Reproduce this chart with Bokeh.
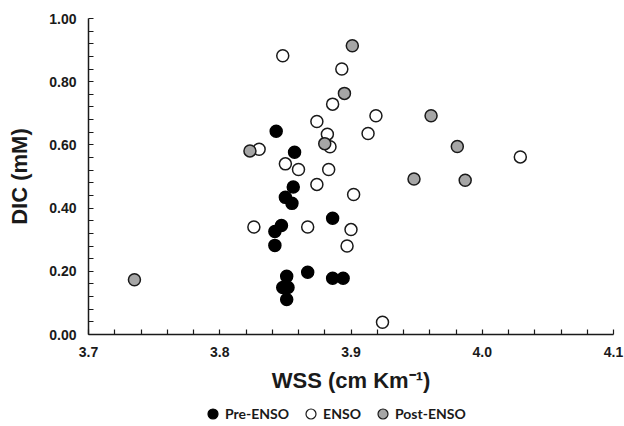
import numpy as np
from bokeh.plotting import figure
from bokeh.layouts import column
from bokeh.models import (Range1d, FixedTicker, LinearAxis, Legend, LegendItem,
                          PrintfTickFormatter)
from bokeh.embed import file_html
from bokeh.resources import INLINE

# ---- data ----
pre_wss = [3.843, 3.857, 3.856, 3.850, 3.855, 3.847, 3.842, 3.842, 3.886,
           3.867, 3.851, 3.886, 3.894, 3.848, 3.852, 3.851]
pre_dic = [0.643, 0.577, 0.467, 0.434, 0.415, 0.345, 0.326, 0.282, 0.368,
           0.197, 0.184, 0.178, 0.178, 0.149, 0.149, 0.111]

enso_wss = [3.848, 3.893, 3.886, 3.874, 3.919, 3.913, 3.882, 3.884, 3.830,
            3.850, 3.860, 3.883, 3.874, 3.902, 3.826, 3.867, 3.900, 3.897,
            3.924, 4.029]
enso_dic = [0.882, 0.840, 0.729, 0.674, 0.692, 0.636, 0.634, 0.594, 0.586,
            0.540, 0.522, 0.522, 0.475, 0.443, 0.340, 0.340, 0.332, 0.280,
            0.039, 0.562]

post_wss = [3.901, 3.895, 3.880, 3.823, 3.961, 3.981, 3.948, 3.987, 3.735]
post_dic = [0.914, 0.763, 0.604, 0.581, 0.692, 0.595, 0.492, 0.488, 0.173]

x_ticks = [3.7, 3.8, 3.9, 4.0, 4.1]
y_ticks = [0.0, 0.2, 0.4, 0.6, 0.8, 1.0]
series_labels = ["Pre-ENSO", "ENSO", "Post-ENSO"]

TXT = "#1a1a1a"
FONT = "Liberation Sans"
STYLES = {
    "Pre-ENSO": dict(fill_color="black", line_color="black"),
    "ENSO": dict(fill_color="white", line_color=TXT),
    "Post-ENSO": dict(fill_color="#a6a6a6", line_color=TXT),
}
SERIES = {
    "Pre-ENSO": (pre_wss, pre_dic),
    "ENSO": (enso_wss, enso_dic),
    "Post-ENSO": (post_wss, post_dic),
}


def minors(ticks, n=5):
    out = []
    for a, b in zip(ticks[:-1], ticks[1:]):
        out.extend(np.linspace(a, b, n + 1)[1:-1].tolist())
    return out


p = figure(width=624, height=400, output_backend="svg", toolbar_location=None,
           x_range=Range1d(x_ticks[0], x_ticks[-1]),
           y_range=Range1d(y_ticks[0], y_ticks[-1]),
           x_axis_type=None, y_axis_type=None,
           min_border_left=88, min_border_right=11, min_border_top=18,
           min_border_bottom=66)
p.outline_line_color = None
p.xgrid.visible = False
p.ygrid.visible = False
p.background_fill_color = "white"
p.border_fill_color = "white"

xaxis = LinearAxis(ticker=FixedTicker(ticks=x_ticks, minor_ticks=minors(x_ticks)),
                   formatter=PrintfTickFormatter(format="%.1f"),
                   axis_label="WSS (cm Km\u207b\u00b9)")
yaxis = LinearAxis(ticker=FixedTicker(ticks=y_ticks, minor_ticks=minors(y_ticks)),
                   formatter=PrintfTickFormatter(format="%.2f"),
                   axis_label="DIC (mM)")
for ax in (xaxis, yaxis):
    ax.axis_line_color = TXT
    ax.axis_line_width = 1.5
    ax.major_tick_line_color = TXT
    ax.minor_tick_line_color = TXT
    ax.major_tick_line_width = 1.2
    ax.minor_tick_line_width = 1.2
    ax.major_tick_in = 5
    ax.major_tick_out = 0
    ax.minor_tick_in = 5
    ax.minor_tick_out = 0
    ax.major_label_text_font = FONT
    ax.major_label_text_font_style = "bold"
    ax.major_label_text_font_size = "14px"
    ax.major_label_text_color = TXT
    ax.axis_label_text_font = FONT
    ax.axis_label_text_font_style = "bold"
    ax.axis_label_text_font_size = "22px"
    ax.axis_label_text_color = TXT
xaxis.major_label_standoff = 12
xaxis.axis_label_standoff = 8
yaxis.major_label_standoff = 12
yaxis.axis_label_standoff = 14
p.add_layout(xaxis, "below")
p.add_layout(yaxis, "left")

for name in ["ENSO", "Post-ENSO", "Pre-ENSO"]:
    xs, ys = SERIES[name]
    p.scatter(xs, ys, size=12, marker="circle", line_width=1.5, **STYLES[name])

# ---- legend strip below the chart (its own small figure, no visible marks) ----
lg = figure(width=624, height=26, output_backend="svg", toolbar_location=None,
            x_range=Range1d(0, 1), y_range=Range1d(0, 1),
            x_axis_type=None, y_axis_type=None,
            min_border_left=88, min_border_right=11,
            min_border_top=0, min_border_bottom=0)
lg.outline_line_color = None
lg.xgrid.visible = False
lg.ygrid.visible = False
lg.border_fill_color = "white"
lg.background_fill_color = "white"

items = []
for name in series_labels:
    xs, ys = SERIES[name]
    # same series; they fall outside this strip's ranges so only the legend keys show
    r = lg.scatter(xs, ys, size=10, marker="circle", line_width=1.2,
                   **STYLES[name])
    items.append(LegendItem(label=name, renderers=[r]))

legend = Legend(items=items, orientation="horizontal", location=(112, 0),
                glyph_width=25, glyph_height=25, label_standoff=0, spacing=9,
                padding=0, margin=0, border_line_color=None,
                background_fill_alpha=0,
                label_text_font="Lato", label_text_font_style="bold",
                label_text_font_size="14px", label_text_color=TXT,
                label_height=25)
lg.add_layout(legend, "center")

layout = column(p, lg, spacing=0)
open("out.html", "w").write(file_html(layout, INLINE))
